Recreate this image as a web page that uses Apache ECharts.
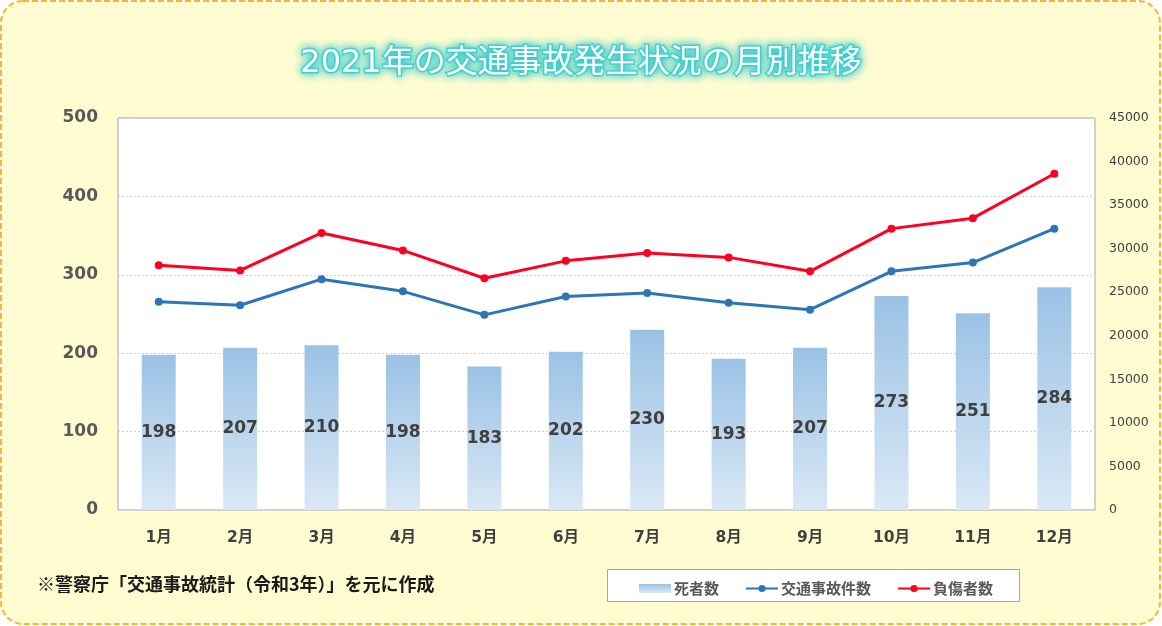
<!DOCTYPE html>
<html>
<head>
<meta charset="utf-8">
<script src="https://cdn.jsdelivr.net/npm/echarts@6/dist/echarts.min.js"></script>
<style>
html,body{margin:0;padding:0;background:#ffffff;}
#chart{width:1162px;height:626px;}
</style>
</head>
<body>
<div id="chart"></div>
<script>
const titleText = '2021年の交通事故発生状況の月別推移';
const footnote = '※警察庁「交通事故統計（令和3年）」を元に作成';
const months = ['1月','2月','3月','4月','5月','6月','7月','8月','9月','10月','11月','12月'];
const seriesNames = ['死者数','交通事故件数','負傷者数'];
const deaths = [198,207,210,198,183,202,230,193,207,273,251,284];
const accidents = [23900,23500,26500,25100,22400,24500,24900,23800,23000,27400,28400,32300];
const injured = [28100,27500,31800,29800,26600,28600,29500,29000,27400,32300,33500,38600];

const FONT = '"DejaVu Sans","Noto Sans CJK JP",sans-serif';
const chart = echarts.init(document.getElementById('chart'));
chart.setOption({
  animation: false,
  backgroundColor: '#ffffff',
  textStyle: {fontFamily: FONT},
  graphic: [
    {type:'rect', z:-10, silent:true,
     shape:{x:1,y:1,width:1159,height:623,r:22},
     style:{fill:'#FFFCD2', stroke:'#F7B535', lineWidth:2, lineDash:[6,3]}},
    {type:'rect', z:1, silent:true,
     shape:{x:607.5,y:569.5,width:412,height:32},
     style:{fill:'#ffffff', stroke:'#a6a6a6', lineWidth:1}},
    {type:'text', left:37, top:575, z:5,
     style:{text:footnote, font:'bold 18px "Noto Sans CJK JP", sans-serif', fill:'#1a1a1a'}}
  ],
  title: {
    text: titleText,
    left: 'center',
    top: 43,
    textStyle: {
      fontFamily: FONT, fontSize: 32, fontWeight: 'normal', color: '#ffffff',
      textBorderColor: '#45d2d2', textBorderWidth: 3,
      textShadowColor: '#30caca', textShadowBlur: 10
    }
  },
  legend: {
    data: [
      {name: seriesNames[0], icon: 'rect'},
      {name: seriesNames[1]},
      {name: seriesNames[2]}
    ],
    left: 634, top: 576,
    itemWidth: 32, itemHeight: 9, itemGap: 26,
    textStyle: {fontFamily: '"Noto Sans CJK JP",sans-serif', fontSize: 15, fontWeight: 'bold', color: '#595959', padding:[0,0,0,-2]}
  },
  grid: {
    left: 118, right: 67, top: 118, bottom: 116,
    show: true, backgroundColor: '#ffffff', borderColor: '#a6a6a6', borderWidth: 1
  },
  xAxis: {
    type: 'category', data: months,
    axisLine: {show: false}, axisTick: {show: false},
    axisLabel: {margin: 20, fontFamily: FONT, fontSize: 15.5, fontWeight: 'bold', color: '#404040'}
  },
  yAxis: [
    {type: 'value', min: 0, max: 500, interval: 100,
     axisLine: {show: false}, axisTick: {show: false},
     axisLabel: {margin: 20, fontFamily: FONT, fontSize: 17, fontWeight: 'bold', color: '#595959'},
     splitLine: {lineStyle: {color: '#d0d0d0', type: [2,2]}}},
    {type: 'value', min: 0, max: 45000, interval: 5000,
     axisLine: {show: false}, axisTick: {show: false},
     axisLabel: {margin: 14, fontFamily: FONT, fontSize: 12.5, color: '#404040',
                 formatter: function (v) { return String(v); }},
     splitLine: {show: false}}
  ],
  series: [
    {name: seriesNames[0], type: 'bar', yAxisIndex: 0, data: deaths, barWidth: 34,
     itemStyle: {color: new echarts.graphic.LinearGradient(0,0,0,1,[
       {offset:0,color:'#9AC2E5'},{offset:1,color:'#DAE8F5'}])},
     label: {show: true, position: 'inside', fontFamily: FONT, fontSize: 17, fontWeight: 'bold', color: '#404040'}},
    {name: seriesNames[1], type: 'line', yAxisIndex: 1, data: accidents,
     symbol: 'circle', symbolSize: 8,
     lineStyle: {color: '#2E75B6', width: 3}, itemStyle: {color: '#2E75B6'}},
    {name: seriesNames[2], type: 'line', yAxisIndex: 1, data: injured,
     symbol: 'circle', symbolSize: 8,
     lineStyle: {color: '#FF0020', width: 3}, itemStyle: {color: '#FF0020'}}
  ]
});
</script>
</body>
</html>
